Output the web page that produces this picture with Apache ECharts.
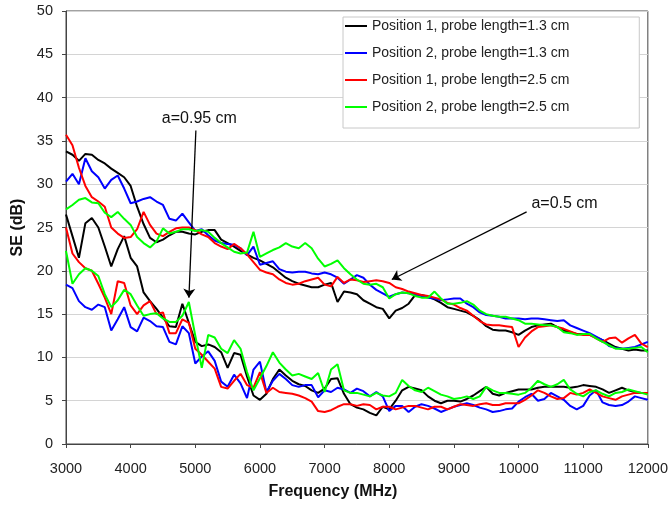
<!DOCTYPE html>
<html>
<head>
<meta charset="utf-8">
<script src="https://cdn.jsdelivr.net/npm/echarts@6/dist/echarts.min.js"></script>
<style>
  html, body { margin: 0; padding: 0; background: #fff; }
  #chart { width: 671px; height: 505px; }
</style>
</head>
<body>
<div id="chart"></div>
<script>
var chart = echarts.init(document.getElementById('chart'), null, { renderer: 'canvas' });

// frequency grid, MHz (100 MHz step)
var freq = [];
for (var f = 3000; f <= 12000; f += 100) freq.push(f);

var names = [
    'Position 1, probe length=1.3 cm',
    'Position 2, probe length=1.3 cm',
    'Position 1, probe length=2.5 cm',
    'Position 2, probe length=2.5 cm'
];
var colors = ['#000000', '#0000ff', '#ff0000', '#00ff00'];

// a=0.5 cm curves (upper group)
var upperP1L13 = [33.8,33.4,32.7,33.5,33.4,32.8,32.4,31.8,31.3,30.8,29.8,27.4,25.4,23.8,23.3,23.6,24.1,24.5,24.5,24.3,
    24.2,24.5,24.7,24.7,23.6,23.2,22.8,22.3,21.9,21.5,21.2,20.8,20.4,19.8,19.2,18.8,18.5,18.3,18.1,18.1,
    18.4,18.6,16.4,17.6,17.5,17.3,16.6,16.2,15.8,15.6,14.5,15.4,15.7,16.2,17.2,17.2,17.0,16.7,16.3,15.8,
    15.6,15.4,15.2,14.8,14.3,13.6,13.2,13.1,13.1,12.9,12.6,13.1,13.5,13.7,13.8,13.9,13.5,13.1,12.9,12.7,
    12.7,12.6,12.3,12.0,11.6,11.2,11.0,10.8,10.9,10.8,10.8];
var upperP2L13 = [30.3,31.2,30.0,33.0,31.5,30.8,29.5,30.5,31.0,29.5,27.8,28.0,28.3,28.5,28.0,27.6,26.0,25.8,26.6,25.6,
    24.6,24.8,24.1,23.5,23.2,23.1,23.0,22.6,21.8,22.8,20.7,20.9,21.1,20.2,19.9,19.8,19.9,19.9,19.7,19.6,
    19.8,19.6,19.2,18.5,19.0,19.5,19.2,18.4,17.8,17.4,17.0,17.3,17.5,17.4,17.3,17.1,16.9,16.8,16.6,16.7,
    16.8,16.8,16.2,15.8,15.2,14.9,14.8,14.7,14.5,14.5,14.5,14.4,14.5,14.5,14.4,14.3,14.2,14.3,13.7,13.4,
    13.1,12.8,12.4,12.0,11.3,11.1,11.0,11.1,11.2,11.5,11.8];
var upperP1L25 = [35.7,34.5,31.9,29.8,28.5,28.0,27.4,25.0,24.3,23.8,23.9,24.8,26.8,25.3,24.3,24.0,24.5,24.9,25.0,25.0,
    24.7,24.2,23.9,23.2,22.8,22.5,23.1,22.6,21.9,21.0,20.1,19.8,19.6,19.0,18.6,18.4,18.5,18.8,19.0,19.2,
    18.4,18.2,19.3,18.6,19.0,18.9,18.7,18.8,18.9,18.8,18.6,18.1,17.9,17.6,17.4,17.2,17.1,16.9,16.7,16.3,
    16.1,15.7,15.4,14.8,14.2,13.8,13.7,13.7,13.6,13.5,11.2,12.3,13.0,13.5,13.6,13.7,13.5,13.3,13.0,12.7,
    12.6,12.6,12.2,11.8,12.2,12.3,11.7,12.2,12.6,11.6,11.2];
var upperP2L25 = [27.1,27.6,28.2,28.4,27.9,27.8,26.7,26.2,26.8,26.0,25.3,23.9,23.2,22.7,23.4,24.9,24.3,24.5,24.8,24.8,
    24.6,24.7,24.5,23.8,23.2,22.7,22.2,22.0,22.1,24.5,21.6,22.0,22.4,22.7,23.2,22.8,22.6,23.2,22.6,21.4,
    20.5,20.8,21.2,20.3,19.6,19.0,18.5,18.4,18.5,18.1,16.8,17.3,17.5,17.4,17.1,16.9,16.9,17.6,16.8,16.2,
    16.2,16.3,16.5,16.1,15.4,15.0,14.8,14.7,14.7,14.5,14.3,13.9,13.9,13.8,13.7,13.7,13.5,12.9,12.8,12.6,
    12.7,12.7,12.2,11.8,11.4,11.0,11.0,11.0,11.1,11.2,10.6];

// a=0.95 cm curves (lower group)
var lowerP1L13 = [26.5,24.0,21.5,25.5,26.1,25.0,22.8,20.5,22.5,24.0,21.5,20.5,17.5,16.5,15.6,14.6,13.6,13.5,16.2,14.0,
    11.8,11.3,11.5,11.2,10.6,8.8,10.5,10.3,7.8,5.6,5.1,5.8,7.5,8.6,7.9,7.3,6.9,6.7,6.2,5.9,
    6.4,7.5,7.6,5.8,4.6,4.2,4.0,3.6,3.3,4.3,4.0,5.0,6.2,6.6,6.4,6.2,5.5,5.0,4.7,5.0,
    5.0,4.9,5.2,5.6,6.1,6.6,5.8,5.6,5.9,6.1,6.3,6.3,6.3,6.5,6.6,6.6,6.6,6.6,6.5,6.6,
    6.8,6.7,6.6,6.3,5.9,6.2,6.5,6.2,6.0,5.9,5.9];
var lowerP2L13 = [18.4,18.0,16.5,15.8,15.5,16.1,15.8,13.1,14.4,15.8,13.5,13.0,14.6,14.2,13.6,13.5,11.8,11.5,13.6,12.8,
    9.3,10.1,10.7,9.6,7.2,6.6,8.0,7.0,5.3,8.6,9.5,6.0,7.3,8.1,7.5,6.8,6.6,6.8,6.8,5.4,
    6.2,6.0,6.5,6.3,5.9,6.4,6.1,5.5,6.0,5.5,3.8,4.4,4.4,3.7,4.3,4.6,4.4,4.1,3.7,4.0,
    4.3,4.5,4.7,4.5,4.2,4.0,3.7,3.8,4.0,4.1,4.9,5.4,5.8,5.0,5.2,5.9,5.5,5.1,4.4,4.0,
    4.4,5.6,6.2,4.8,4.5,4.4,4.5,4.9,5.5,5.3,5.1];
var lowerP1L25 = [25.0,22.0,21.0,20.3,20.0,18.5,16.9,15.0,18.8,18.6,16.0,15.0,16.0,16.5,15.0,15.2,12.8,12.8,14.4,14.0,
    11.0,10.3,9.5,8.7,6.6,6.4,7.3,8.1,6.8,6.5,8.3,5.9,6.5,6.0,5.9,5.8,5.6,5.3,4.9,3.8,
    3.7,3.9,4.3,4.6,4.6,4.4,4.6,4.5,4.0,4.3,4.3,4.0,4.2,4.4,4.4,4.2,4.0,4.3,4.3,4.0,
    4.3,4.6,4.5,4.4,4.6,4.7,4.5,4.5,4.7,4.7,4.7,5.1,5.6,6.2,5.9,5.5,5.2,5.3,5.9,5.7,
    5.9,6.3,5.9,5.5,5.3,5.1,5.5,5.7,5.9,5.9,5.9];
var lowerP2L25 = [22.3,18.5,19.6,20.3,20.0,19.4,17.3,15.8,16.6,17.8,17.3,16.0,14.8,15.0,15.1,14.5,14.1,14.1,14.8,16.4,
    12.5,8.8,12.6,12.3,11.0,10.5,12.0,11.0,8.3,6.2,7.6,9.0,10.6,9.4,8.6,7.9,8.1,7.8,7.5,8.2,
    6.0,8.6,9.2,6.2,5.9,5.9,5.7,5.5,5.9,5.6,5.5,5.9,7.4,6.7,6.2,6.0,6.5,6.1,5.7,5.5,
    5.2,5.3,5.5,5.2,5.5,6.6,6.2,5.9,5.9,5.8,5.7,5.9,6.5,7.3,6.9,6.6,6.9,7.4,6.3,5.8,
    5.5,6.0,6.2,5.8,5.5,5.9,6.0,6.3,6.1,5.9,5.7];

// annotation arrows in data space: [fromFreq, fromSE, toFreq, toSE]
var arrow095 = [5009, 36.2, 4901, 16.9];
var arrow05 = [10125, 26.8, 8039, 19.0];
// annotation text anchors: [freq, SE]
var text095 = [5063, 37.6];
var text05 = [10712, 27.8];

function pairs(vals) {
    var out = [];
    for (var i = 0; i < vals.length; i++) out.push([freq[i], vals[i]]);
    return out;
}

var groups = [
    [upperP1L13, lowerP1L13],
    [upperP2L13, lowerP2L13],
    [upperP1L25, lowerP1L25],
    [upperP2L25, lowerP2L25]
];

var series = [];
for (var k = 0; k < 4; k++) {
    for (var g = 0; g < 2; g++) {
        series.push({
            name: names[k],
            type: 'line',
            showSymbol: false,
            symbol: 'none',
            data: pairs(groups[k][g]),
            lineStyle: { color: colors[k], width: 2 },
            itemStyle: { color: colors[k] },
            z: 2 + k
        });
    }
}

// arrows, attached to the last curve
series[series.length - 1].markLine = {
    silent: true,
    symbol: ['none', 'arrow'],
    symbolSize: 9,
    label: { show: false },
    emphasis: { disabled: true },
    lineStyle: { color: '#000', width: 1.3, type: 'solid' },
    itemStyle: { color: '#000' },
    data: [
        [{ coord: [arrow095[0], arrow095[1]] }, { coord: [arrow095[2], arrow095[3]] }],
        [{ coord: [arrow05[0], arrow05[1]] }, { coord: [arrow05[2], arrow05[3]] }]
    ]
};

var font = '"Liberation Sans", Arial, sans-serif';

chart.setOption({
    animation: false,
    backgroundColor: '#fff',
    grid: {
        left: 66, right: 23, top: 11, bottom: 57,
        show: true, borderColor: '#444', borderWidth: 1
    },
    legend: {
        data: names,
        orient: 'vertical',
        left: 343,
        top: 17,
        padding: [2, 70, 14, 2],
        itemGap: 13,
        itemWidth: 22,
        itemHeight: 2,
        icon: 'rect',
        backgroundColor: '#fff',
        borderColor: '#c8c8c8',
        borderWidth: 1,
        textStyle: { fontFamily: font, fontSize: 14, color: '#222' }
    },
    xAxis: {
        type: 'value',
        min: 3000, max: 12000, interval: 1000,
        name: 'Frequency (MHz)',
        nameLocation: 'middle',
        nameGap: 40,
        nameTextStyle: { fontFamily: font, fontSize: 16, fontWeight: 'bold', color: '#111', padding: [0, 48, 0, 0] },
        axisLine: { lineStyle: { color: '#444' } },
        axisTick: { show: true, inside: false, length: 4, lineStyle: { color: '#444' } },
        axisLabel: { fontFamily: font, fontSize: 14.5, color: '#222', margin: 17, formatter: function (v) { return String(v); } },
        splitLine: { show: false }
    },
    yAxis: {
        type: 'value',
        min: 0, max: 50, interval: 5,
        name: 'SE (dB)',
        nameLocation: 'middle',
        nameGap: 38,
        nameRotate: 90,
        nameTextStyle: { fontFamily: font, fontSize: 16, fontWeight: 'bold', color: '#111' },
        axisLine: { show: true, lineStyle: { color: '#444' } },
        axisTick: { show: true, length: 4, lineStyle: { color: '#444' } },
        axisLabel: { fontFamily: font, fontSize: 14.5, color: '#222', margin: 13 },
        splitLine: { show: true, lineStyle: { color: '#d4d4d4', width: 1 } }
    },
    series: series
});

// annotation texts placed through the axis scales
var p1 = chart.convertToPixel({ gridIndex: 0 }, text095);
var p2 = chart.convertToPixel({ gridIndex: 0 }, text05);
chart.setOption({
    graphic: [
        { type: 'text', x: p1[0], y: p1[1], z: 20,
          style: { text: 'a=0.95 cm', font: '16px ' + font, fill: '#111', align: 'center', verticalAlign: 'middle' } },
        { type: 'text', x: p2[0], y: p2[1], z: 20,
          style: { text: 'a=0.5 cm', font: '16px ' + font, fill: '#111', align: 'center', verticalAlign: 'middle' } }
    ]
});
</script>
</body>
</html>
